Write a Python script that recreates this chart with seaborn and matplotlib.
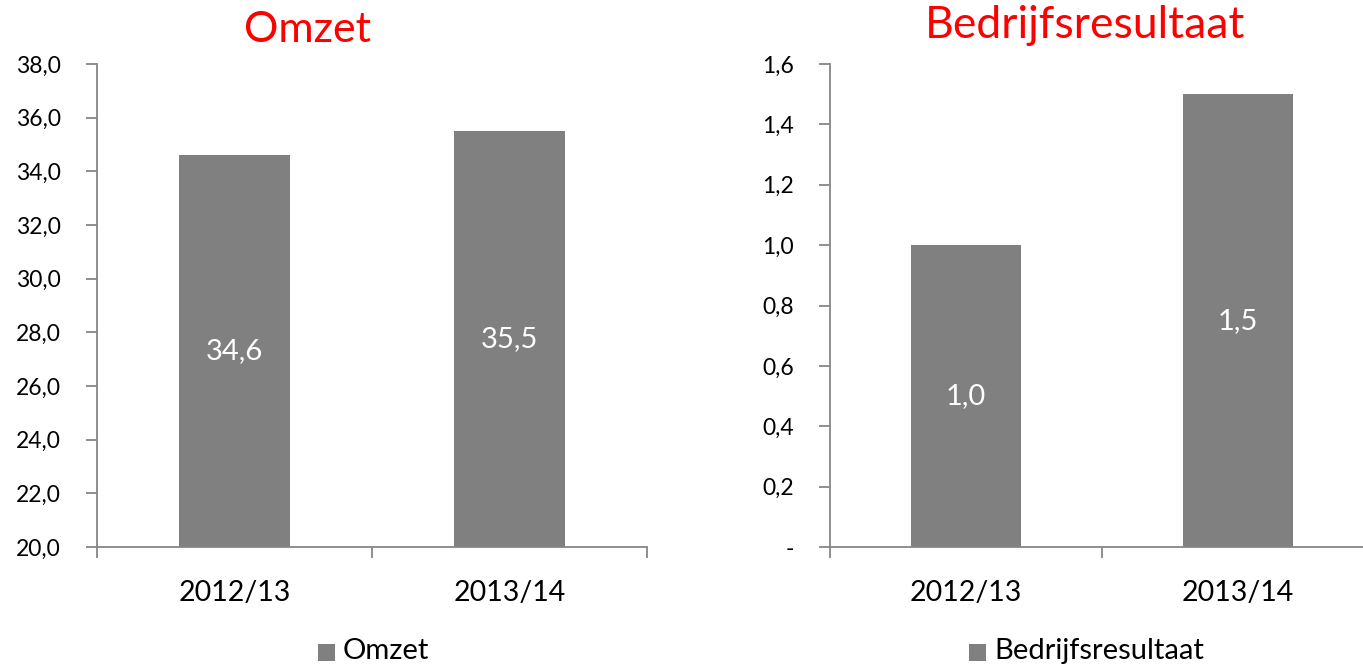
import matplotlib
matplotlib.use("Agg")
import matplotlib.pyplot as plt
import seaborn as sns
import numpy as np
from matplotlib.patches import Rectangle

categories = ["2012/13", "2013/14"]
omzet = [34.6, 35.5]
resultaat = [1.0, 1.5]
omzet_ticks = [20, 22, 24, 26, 28, 30, 32, 34, 36, 38]
res_ticks = [0, 0.2, 0.4, 0.6, 0.8, 1.0, 1.2, 1.4, 1.6]

sns.set_theme(style="white")
plt.rcParams['font.family'] = ['Lato', 'DejaVu Sans']

BAR = "#808080"
SPINE = "#868686"

fig = plt.figure(figsize=(13.63, 6.65), dpi=100)
ax1 = fig.add_axes([97/1363, 1-547/665, (647-97)/1363, (547-64)/665])
ax2 = fig.add_axes([830/1363, 1-547/665, 544/1363, (547-64)/665])

def fmt(v):
    return f"{v:.1f}".replace(".", ",")

def style(ax, vals, ticks, base, zero_dash):
    sns.barplot(x=categories, y=vals, color=BAR, width=0.403, ax=ax,
                saturation=1, edgecolor="none")
    ax.set_xlim(-0.5, 1.5)
    ax.set_ylim(ticks[0], ticks[-1])
    ax.set_yticks(ticks)
    labels = [fmt(t) for t in ticks]
    if zero_dash:
        labels[0] = "-"
    ax.set_yticklabels(labels, fontsize=16.5, color="black")
    ax.set_xticks([0, 1])
    ax.set_xticklabels(categories, fontsize=20.5, color="black")
    ax.set_xticks([-0.5, 0.5, 1.5], minor=True)
    ax.tick_params(axis="x", which="major", length=0, pad=24)
    ax.tick_params(axis="x", which="minor", length=8, width=1.3, color=SPINE, direction="out", bottom=True)
    ax.tick_params(axis="y", which="major", length=8, width=1.3, color=SPINE, direction="out", left=True, pad=18)
    for s in ["top", "right"]:
        ax.spines[s].set_visible(False)
    for s in ["left", "bottom"]:
        ax.spines[s].set_color(SPINE)
        ax.spines[s].set_linewidth(1.3)
    ax.set_xlabel("")
    ax.set_ylabel("")
    for i, v in enumerate(vals):
        ax.text(i, (base + v) / 2, fmt(v), ha="center", va="center",
                color="white", fontsize=21)

style(ax1, omzet, omzet_ticks, 20, False)
style(ax2, resultaat, res_ticks, 0, True)

fig.text(307/1363, 1-30/665, "Omzet", color="#ff0000", fontsize=31, ha="center", va="center")
fig.text(1085/1363, 1-26/665, "Bedrijfsresultaat", color="#ff0000", fontsize=32, ha="center", va="center")

# legends
for cx, label in [(318/1363, "Omzet"), (969/1363, "Bedrijfsresultaat")]:
    fig.patches.append(Rectangle((cx, 1-661/665), 17/1363, 17/665, transform=fig.transFigure,
                                 facecolor=BAR, edgecolor="none"))
    fig.text(cx + 25/1363, 1-651/665, label, fontsize=21, ha="left", va="center", color="black")

fig.savefig("out.png", dpi=100, facecolor="white")
